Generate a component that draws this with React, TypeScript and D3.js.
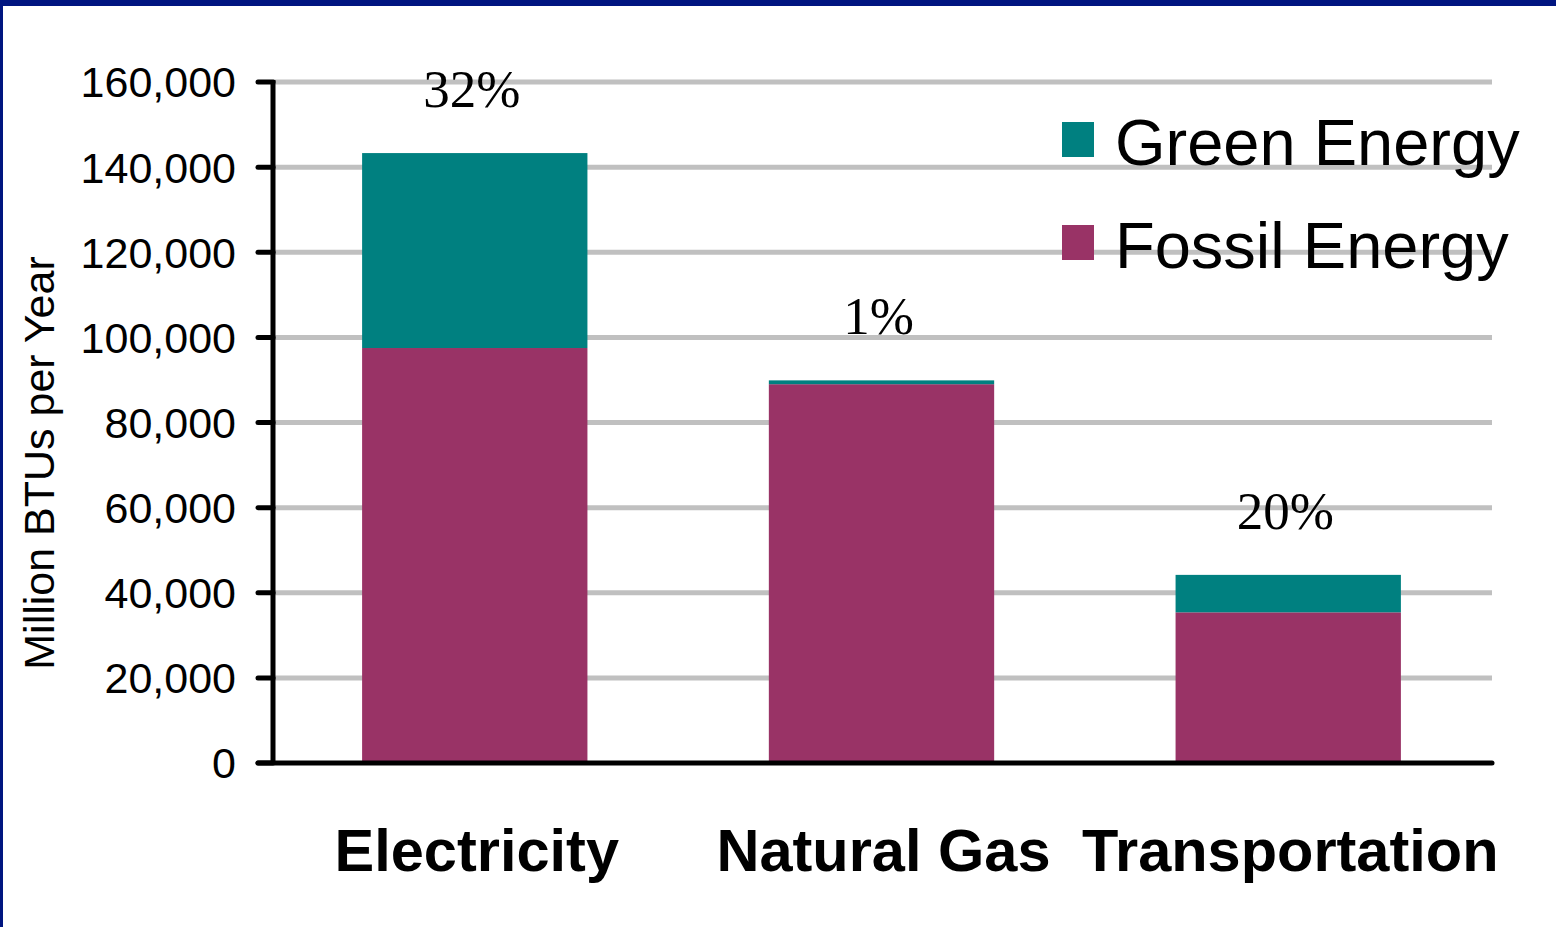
import React from "react";
import * as d3 from "d3";

const categories = ["Electricity", "Natural Gas", "Transportation"];
const fossil = [97500, 89000, 35400];
const green = [45800, 900, 8800];
const shareLabels = ["32%", "1%", "20%"];
const yTicks = [0, 20000, 40000, 60000, 80000, 100000, 120000, 140000, 160000];
const legendItems = ["Green Energy", "Fossil Energy"];

const W = 1556;
const H = 927;
const border = "#001580";
const colors = { fossil: "#993366", green: "#008080" };

const margin = { top: 82, right: 64, bottom: 164, left: 272 };

const App = () => {
  const rows = categories.map((c, i) => ({ cat: c, fossil: fossil[i], green: green[i] }));
  const stack = d3.stack<any>().keys(["fossil", "green"])(rows);

  const x = d3
    .scaleBand()
    .domain(categories)
    .range([margin.left - 1, W - margin.right])
    .paddingInner(0.446)
    .paddingOuter(0.224);

  const y = d3
    .scaleLinear()
    .domain([0, 160000])
    .range([H - margin.bottom, margin.top]);

  const fmt = d3.format(",");
  const axisX = margin.left + 1;
  const right = W - margin.right;

  return (
    <svg
      width={W}
      height={H}
      style={{ position: "absolute", left: 0, top: 0, background: "#fff" }}
      xmlns="http://www.w3.org/2000/svg"
    >
      <rect x={0} y={0} width={W} height={6} fill={border} />
      <rect x={0} y={0} width={3} height={H} fill={border} />

      {/* gridlines */}
      {yTicks
        .filter((t) => t > 0)
        .map((t) => (
          <line
            key={t}
            x1={axisX}
            x2={right}
            y1={y(t)}
            y2={y(t)}
            stroke="#c0c0c0"
            strokeWidth={5}
          />
        ))}

      {/* bars */}
      {stack.map((layer) => (
        <g key={layer.key} fill={colors[layer.key as "fossil" | "green"]}>
          {layer.map((d, i) => (
            <rect
              key={i}
              x={x(categories[i])}
              width={x.bandwidth()}
              y={y(d[1])}
              height={y(d[0]) - y(d[1])}
            />
          ))}
        </g>
      ))}

      {/* share labels */}
      {categories.map((c, i) => (
        <text
          key={c}
          x={(x(c) as number) + x.bandwidth() / 2 - 3}
          y={y(fossil[i] + green[i]) - 46}
          textAnchor="middle"
          fontFamily="'Liberation Serif', 'Times New Roman', serif"
          fontSize={53}
          fill="#000"
        >
          {shareLabels[i]}
        </text>
      ))}

      {/* y axis */}
      <line x1={axisX} x2={axisX} y1={y(160000) - 2} y2={y(0)} stroke="#000" strokeWidth={5} />
      {yTicks.map((t) => (
        <g key={t}>
          <line x1={258} x2={axisX} y1={y(t)} y2={y(t)} stroke="#000" strokeWidth={5} strokeLinecap="round" />
          <text
            x={236}
            y={y(t)}
            dy="0.36em"
            textAnchor="end"
            fontFamily="'Liberation Sans', Arial, sans-serif"
            fontSize={43}
            fill="#000"
          >
            {fmt(t)}
          </text>
        </g>
      ))}
      <line x1={258} x2={right} y1={y(0)} y2={y(0)} stroke="#000" strokeWidth={5} strokeLinecap="round" />

      <text
        transform={`translate(54,${463}) rotate(-90)`}
        textAnchor="middle"
        fontFamily="'Liberation Sans', Arial, sans-serif"
        fontSize={43}
        fill="#000"
      >
        Million BTUs per Year
      </text>

      {/* category labels */}
      {categories.map((c) => (
        <text
          key={c}
          x={(x(c) as number) + x.bandwidth() / 2 + 2}
          y={871}
          textAnchor="middle"
          fontFamily="'Liberation Sans', Arial, sans-serif"
          fontWeight="bold"
          fontSize={59.5}
          fill="#000"
        >
          {c}
        </text>
      ))}

      {/* legend */}
      {legendItems.map((name, i) => (
        <g key={name} transform={`translate(1062,${122 + i * 103})`}>
          <rect x={0} y={0} width={32} height={35} fill={i === 0 ? colors.green : colors.fossil} />
          <text
            x={53}
            y={43}
            fontFamily="'Liberation Sans', Arial, sans-serif"
            fontSize={65}
            fill="#000"
          >
            {name}
          </text>
        </g>
      ))}
    </svg>
  );
};

export default App;
